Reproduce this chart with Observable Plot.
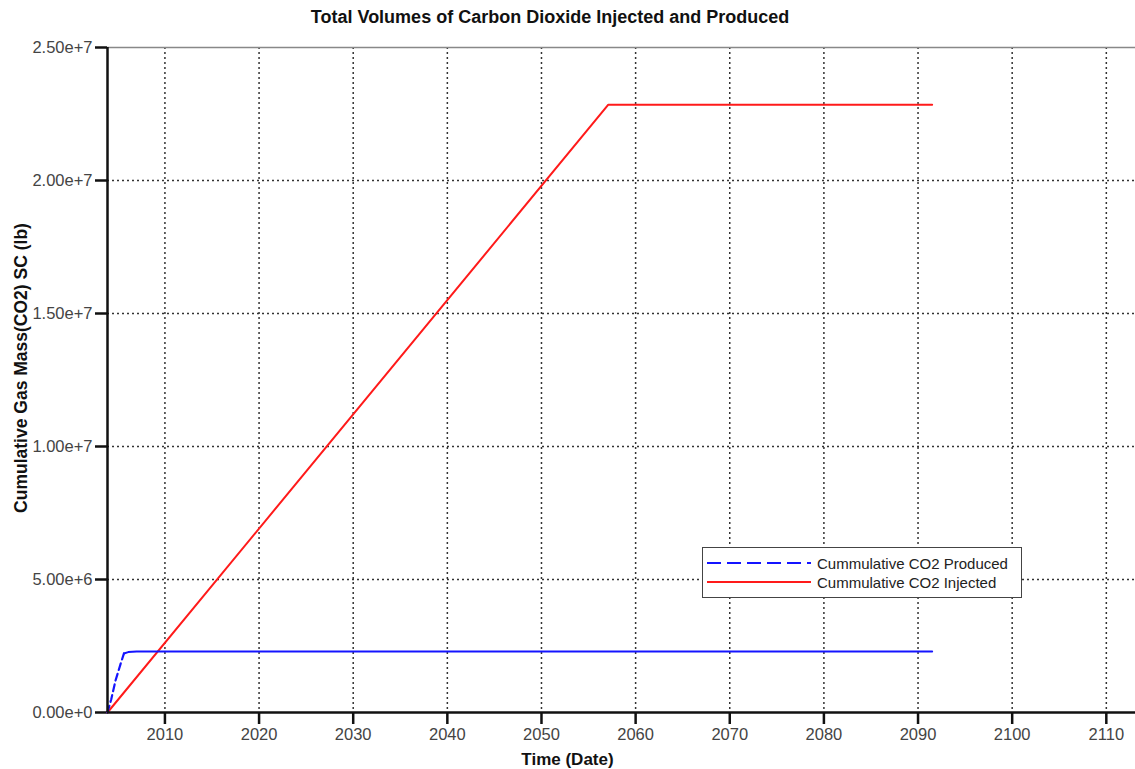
<!DOCTYPE html>
<html>
<head>
<meta charset="utf-8">
<script src="https://cdn.jsdelivr.net/npm/d3@7"></script>
<script src="https://cdn.jsdelivr.net/npm/@observablehq/plot@0.6"></script>
<style>
  html, body { margin: 0; padding: 0; background: #fff; }
  body { width: 1135px; height: 769px; position: relative; overflow: hidden; font-family: "Liberation Sans", Arial, sans-serif; }
  #title { position: absolute; left: 0; top: 0; width: 1100px; height: 34px; line-height: 34px; text-align: center; font-weight: bold; font-size: 18px; color: #111; }
  #chart { position: absolute; left: 0; top: 34px; }
  #xlabel { position: absolute; left: 0; width: 1135px; top: 750px; line-height: 20px; text-align: center; font-weight: bold; font-size: 17px; color: #111; }
  #legend { position: absolute; left: 702px; top: 547px; width: 318px; height: 49px; border: 1.5px solid #444; background: #fff; }
  .row { position: absolute; left: 4px; height: 18px; display: flex; align-items: center; font-size: 15px; color: #222; }
  .row svg { margin-right: 6px; }
</style>
</head>
<body>
<div id="title">Total Volumes of Carbon Dioxide Injected and Produced</div>
<div id="chart"></div>
<div id="xlabel">Time (Date)</div>
<div id="legend"></div>
<script>
// ---- data ----
const seriesNames = ["Cummulative CO2 Produced", "Cummulative CO2 Injected"];
const producedYears  = [2003.9, 2004.3, 2004.75, 2005.3, 2005.65, 2006.1, 2007.0, 2091.5];
const producedValues = [0, 0.5e6, 1.2e6, 1.84e6, 2.22e6, 2.27e6, 2.29e6, 2.29e6];
const injectedYears  = [2003.9, 2057.1, 2091.5];
const injectedValues = [0, 2.285e7, 2.285e7];
const xTicks = [2010, 2020, 2030, 2040, 2050, 2060, 2070, 2080, 2090, 2100, 2110];
const yTicks = [0, 5e6, 1e7, 1.5e7, 2e7, 2.5e7];
const xDomain = [2003.9, 2113.1];
const yDomain = [0, 2.5e7];

const produced = producedYears.map((t, i) => ({t, v: producedValues[i]}));
const injected = injectedYears.map((t, i) => ({t, v: injectedValues[i]}));
const blue = "#1414ff", red = "#ff1a1a";

const chart = Plot.plot({
  width: 1135,
  height: 718,
  marginTop: 13,
  marginBottom: 40,
  marginLeft: 107,
  marginRight: 0,
  style: {fontFamily: "Liberation Sans, Arial, sans-serif", fontSize: "16.5px", color: "#333", background: "#fff"},
  x: {domain: xDomain, ticks: xTicks, label: null},
  y: {domain: yDomain, ticks: yTicks, label: null},
  marks: [
    Plot.gridX(xTicks, {stroke: "#333", strokeOpacity: 1, strokeWidth: 1.5, strokeDasharray: "2,3"}),
    Plot.gridY(yTicks.slice(1, -1), {stroke: "#333", strokeOpacity: 1, strokeWidth: 1.5, strokeDasharray: "2,3"}),
    Plot.ruleY([yDomain[1]], {stroke: "#888", strokeWidth: 1.5}),
    Plot.axisX(xTicks, {tickSize: 12, tickPadding: 4, tickFormat: d => String(d), fill: "#444", stroke: "#111", strokeWidth: 2.5, fontSize: 16.5}),
    Plot.axisY(yTicks, {tickSize: 12, tickPadding: 3, tickFormat: d3.format(".2e"), fill: "#444", stroke: "#111", strokeWidth: 2.5, fontSize: 16.5}),
    Plot.line(injected, {x: "t", y: "v", stroke: red, strokeWidth: 2}),
    Plot.line(produced.filter(d => d.t <= 2005.65), {x: "t", y: "v", stroke: blue, strokeWidth: 2.2, strokeDasharray: "7,4"}),
    Plot.line(produced.filter(d => d.t >= 2005.65), {x: "t", y: "v", stroke: blue, strokeWidth: 2}),
    Plot.ruleX([xDomain[0]], {stroke: "#111", strokeWidth: 2.5}),
    Plot.ruleY([0], {stroke: "#111", strokeWidth: 2.5})
  ]
});
document.getElementById("chart").appendChild(chart);

// y-axis title (rotated)
const svg = d3.select(chart);
svg.append("text")
  .attr("transform", `translate(21, ${368 - 34}) rotate(-90)`)
  .attr("text-anchor", "middle")
  .attr("dominant-baseline", "central")
  .attr("font-weight", "bold")
  .attr("font-size", 17.5)
  .attr("fill", "#111")
  .text("Cumulative Gas Mass(CO2) SC (lb)");

// legend
const legend = document.getElementById("legend");
const styles = [{color: blue, dash: "14,6"}, {color: red, dash: null}];
seriesNames.forEach((name, i) => {
  const row = document.createElement("div");
  row.className = "row";
  row.style.top = (6 + i * 19) + "px";
  row.innerHTML = `<svg width="104" height="10"><line x1="0" x2="104" y1="5" y2="5" stroke="${styles[i].color}" stroke-width="2.2" ${styles[i].dash ? `stroke-dasharray="${styles[i].dash}"` : ""}/></svg><span>${name}</span>`;
  legend.appendChild(row);
});
</script>
</body>
</html>
